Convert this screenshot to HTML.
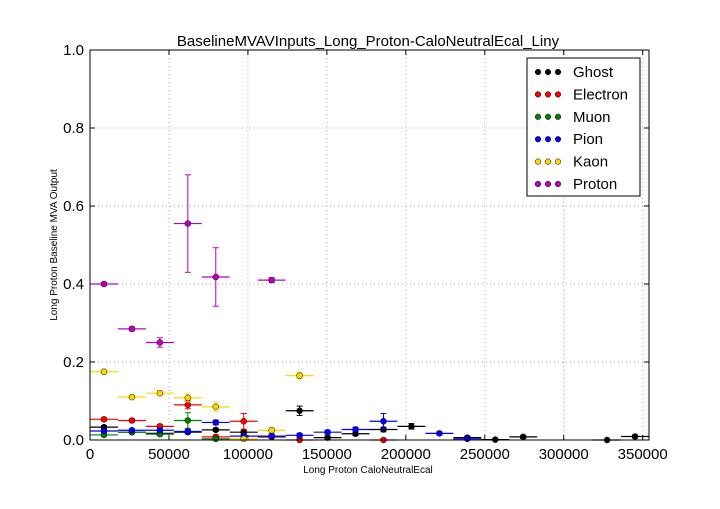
<!DOCTYPE html>
<html><head><meta charset="utf-8"><style>
body{margin:0;background:#fff;width:720px;height:504px;overflow:hidden}
svg{font-family:"Liberation Sans",sans-serif}
</style></head><body>
<svg id="chart" width="720" height="504" xmlns="http://www.w3.org/2000/svg"></svg>
<script>
const binWidth = 17700;
const seriesNames = ["Ghost","Electron","Muon","Pion","Kaon","Proton"];
const seriesColors = ["#000000","#ff0000","#008000","#0000ff","#ffd700","#bf00bf"];
const ghostVals = [0.033,0.02,0.017,0.02,0.026,0.02,0.008,0.075,0.006,0.016,0.027,0.035,null,0.006,0.001,0.008,null,null,0.0,0.009];
const electronVals = [0.053,0.05,0.035,0.09,0.008,0.048,0.01,0.0,null,null,0.0,null,null,null,null,null,null,null,null,null];
const muonVals = [0.013,0.02,0.015,0.05,0.003,null,null,null,null,null,null,null,null,null,null,null,null,null,null,null];
const pionVals = [0.023,0.025,0.025,0.022,0.045,0.01,0.01,0.012,0.02,0.027,0.048,null,0.017,0.003,null,null,null,null,null,null];
const kaonVals = [0.175,0.11,0.12,0.108,0.085,0.003,0.025,0.165,null,null,null,null,null,null,null,null,null,null,null,null];
const protonVals = [0.40,0.285,0.25,0.555,0.418,null,0.41,null,null,null,null,null,null,null,null,null,null,null,null,null];
const ghostErr = [0.004,0.003,0.003,0.004,0.004,0.005,0.004,0.012,0.004,0.005,0.006,0.007,0,0.004,0.002,0.004,0,0,0.002,0.004];
const electronErr = [0.004,0.004,0.005,0.01,0.005,0.02,0.006,0.004,0,0,0.004];
const muonErr = [0.003,0.004,0.004,0.02,0.004];
const pionErr = [0.003,0.003,0.004,0.005,0.006,0.004,0.004,0.005,0.005,0.006,0.02,0,0.004,0.003];
const kaonErr = [0.004,0.005,0.006,0.01,0.012,0.004,0.006,0.008];
const protonErr = [0.004,0.005,0.012,0.125,0.075,0,0.006];
const xTicks = [0,50000,100000,150000,200000,250000,300000,350000];
const yTicks = [0.0,0.2,0.4,0.6,0.8,1.0];

const X0=90,X1=649,Y0=440,Y1=50,XMAX=354000;
const sx=v=>X0+v/XMAX*(X1-X0);
const sy=v=>Y0-v*(Y0-Y1);
const svg=document.getElementById('chart');
const NS="http://www.w3.org/2000/svg";
function mk(t,a,p){const e=document.createElementNS(NS,t);for(const k in a)e.setAttribute(k,a[k]);(p||svg).appendChild(e);return e;}

xTicks.forEach(t=>{const l=mk('line',{x1:sx(t),x2:sx(t),y1:Y1,y2:Y0,stroke:'#aaa','stroke-dasharray':'1,3'});


const tx=mk('text',{x:sx(t),y:459,'font-size':15,'text-anchor':'middle'});tx.textContent=t;


mk('line',{x1:sx(t),x2:sx(t),y1:Y0,y2:Y0-5,stroke:'#000'});mk('line',{x1:sx(t),x2:sx(t),y1:Y1,y2:Y1+5,stroke:'#000'});});
yTicks.forEach(t=>{const l=mk('line',{x1:X0,x2:X1,y1:sy(t),y2:sy(t),stroke:'#aaa','stroke-dasharray':'1,3'});


const tx=mk('text',{x:84,y:sy(t)+5,'font-size':15,'text-anchor':'end'});tx.textContent=t.toFixed(1);


mk('line',{x1:X0,x2:X0+5,y1:sy(t),y2:sy(t),stroke:'#000'});mk('line',{x1:X1,x2:X1-5,y1:sy(t),y2:sy(t),stroke:'#000'});});

const allVals=[ghostVals,electronVals,muonVals,pionVals,kaonVals,protonVals];
const allErrs=[ghostErr,electronErr,muonErr,pionErr,kaonErr,protonErr];
allVals.forEach((vals,si)=>{
 const g=mk('g',{});
 
 
 vals.forEach((v,i)=>{ if(v===null)return;
  const c=(i+0.5)*binWidth, y=sy(v), col=seriesColors[si];
  mk('line',{x1:sx(i*binWidth),x2:sx((i+1)*binWidth),y1:y,y2:y,stroke:col,'stroke-width':1.2},g);
  const e=allErrs[si][i]||0.003;
  const lo=Math.max(0,v-e);
  mk('line',{x1:sx(c),x2:sx(c),y1:sy(v+e),y2:sy(lo),stroke:col},g);
  mk('line',{x1:sx(c)-3,x2:sx(c)+3,y1:sy(v+e),y2:sy(v+e),stroke:col},g);
  mk('line',{x1:sx(c)-3,x2:sx(c)+3,y1:sy(lo),y2:sy(lo),stroke:col},g);
  const p=mk('circle',{cx:sx(c),cy:y,r:3,fill:col,stroke:'#000','stroke-width':0.5},g);
  
  
 });
});

const frame=mk('rect',{x:X0,y:Y1,width:X1-X0,height:Y0-Y1,fill:'none',stroke:'#000'});



const title=mk('text',{x:368,y:46,'font-size':15,'text-anchor':'middle'});title.textContent='BaselineMVAVInputs_Long_Proton-CaloNeutralEcal_Liny';


const xt=mk('text',{x:368,y:473,'font-size':10,'text-anchor':'middle'});xt.textContent='Long Proton CaloNeutralEcal';


const yt=mk('text',{x:0,y:0,'font-size':10,'text-anchor':'middle',transform:'translate(57,245) rotate(-90)'});yt.textContent='Long Proton Baseline MVA Output';



const lg=mk('g',{});


mk('rect',{x:527,y:58,width:113,height:138,fill:'#fff',stroke:'#000'},lg);
seriesNames.forEach((n,i)=>{const y=72+i*22.4;
 const e=mk('g',{},lg);
 
 
 [538,548,558].forEach(x=>mk('circle',{cx:x,cy:y,r:2.8,fill:seriesColors[i],stroke:'#000','stroke-width':0.5},e));
 const t=mk('text',{x:573,y:y+5,'font-size':15},e);t.textContent=n;});
</script>
</body></html>
